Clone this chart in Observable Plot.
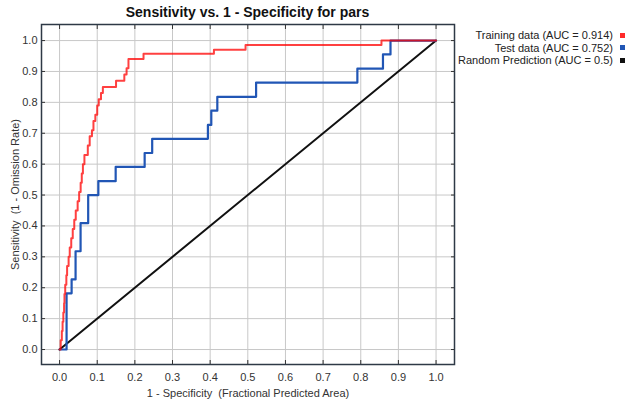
<!DOCTYPE html>
<html><head><meta charset="utf-8">
<script src="https://cdn.jsdelivr.net/npm/d3@7"></script>
<script src="https://cdn.jsdelivr.net/npm/@observablehq/plot@0.6"></script>
<style>
body{margin:0;background:#fff;}
#wrap{position:relative;width:635px;height:402px;font-family:"Liberation Sans",Arial,sans-serif;}
#title{position:absolute;left:41px;width:413px;top:4px;text-align:center;font-family:"Liberation Sans Narrow","Liberation Sans",Arial,sans-serif;font-weight:bold;font-size:14px;color:#111;white-space:nowrap;}
#legend{position:absolute;right:10px;top:29px;font-size:11px;color:#222;text-align:right;line-height:12.5px;white-space:nowrap;}
.sw{display:inline-block;width:5px;height:5px;margin-left:7px;vertical-align:middle;position:relative;top:-1px}
#chart{position:absolute;left:0;top:0}
</style></head>
<body><div id="wrap"><div id="chart"></div><div id="title">Sensitivity vs. 1 - Specificity for pars</div><div id="legend"></div></div>
<script>
// Training data ROC (fraction predicted area vs sensitivity), step corners
const trainFpr = [0, 0.003, 0.006, 0.008, 0.010, 0.012, 0.013, 0.015, 0.018, 0.020, 0.024, 0.027, 0.031, 0.035, 0.039, 0.043, 0.048, 0.052, 0.056, 0.059, 0.062, 0.066, 0.075, 0.080, 0.086, 0.090, 0.095, 0.100, 0.104, 0.110, 0.115, 0.150, 0.172, 0.178, 0.183, 0.223, 0.410, 0.494, 0.855, 1.0];
const trainTpr = [0, 0.03, 0.06, 0.09, 0.12, 0.15, 0.18, 0.21, 0.24, 0.27, 0.30, 0.33, 0.36, 0.39, 0.42, 0.45, 0.48, 0.51, 0.54, 0.57, 0.60, 0.63, 0.66, 0.69, 0.71, 0.74, 0.76, 0.79, 0.81, 0.83, 0.85, 0.87, 0.89, 0.91, 0.94, 0.957, 0.970, 0.986, 1.0, 1.0];
// Test data ROC
const testFpr = [0, 0.0186, 0.032, 0.0425, 0.0558, 0.076, 0.103, 0.149, 0.226, 0.246, 0.394, 0.403, 0.419, 0.522, 0.791, 0.859, 0.879, 1.0];
const testTpr = [0, 0.182, 0.227, 0.318, 0.409, 0.500, 0.545, 0.591, 0.636, 0.682, 0.727, 0.773, 0.818, 0.864, 0.909, 0.955, 1.0, 1.0];
// Random prediction
const randFpr = [0, 1];
const randTpr = [0, 1];
// Legend
const seriesNames = ["Training data", "Test data", "Random Prediction"];
const aucValues = ["0.914", "0.752", "0.5"];
const seriesColors = ["#ff2a2a", "#2156b5", "#111111"];
// Tick values
const tickValues = [0, 0.1, 0.2, 0.3, 0.4, 0.5, 0.6, 0.7, 0.8, 0.9, 1.0];

const train = trainFpr.map((x, i) => ({x, y: trainTpr[i]}));
const test = testFpr.map((x, i) => ({x, y: testTpr[i]}));
const rand = randFpr.map((x, i) => ({x, y: randTpr[i]}));
const fmt = d3.format(".1f");

const chart = Plot.plot({
  width: 635, height: 402,
  marginLeft: 41, marginRight: 181, marginTop: 24, marginBottom: 38,
  x: {domain: [-0.048, 1.049], label: null},
  y: {domain: [-0.0485, 1.052], label: null},
  style: {fontFamily: '"Liberation Sans", Arial, sans-serif', fontSize: "11px", color: "#333", background: "white"},
  marks: [
    Plot.gridX(tickValues, {stroke: "#c8c8c8", strokeOpacity: 1}),
    Plot.gridY(tickValues, {stroke: "#c8c8c8", strokeOpacity: 1}),
    Plot.line(rand, {x: "x", y: "y", stroke: "#111", strokeWidth: 2}),
    Plot.line(test, {x: "x", y: "y", curve: "step-after", stroke: "#2156b5", strokeWidth: 2.2}),
    Plot.line(train, {x: "x", y: "y", curve: "step-after", stroke: "#ff0000", strokeOpacity: 0.75, strokeWidth: 2}),
    Plot.axisX(tickValues, {anchor: "bottom", tickSize: -4, tickFormat: () => "", label: null, stroke: "#333"}),
    Plot.axisX(tickValues, {anchor: "top", tickSize: -4, tickFormat: () => "", label: null, stroke: "#333"}),
    Plot.axisY(tickValues, {anchor: "left", tickSize: -4, tickFormat: () => "", label: null, stroke: "#333"}),
    Plot.axisY(tickValues, {anchor: "right", tickSize: -4, tickFormat: () => "", label: null, stroke: "#333"}),
    Plot.axisX(tickValues, {anchor: "bottom", tickSize: 0, tickPadding: 9, tickFormat: fmt, label: "1 - Specificity  (Fractional Predicted Area)", labelAnchor: "center", labelOffset: 32, labelArrow: "none"}),
    Plot.axisY(tickValues, {anchor: "left", tickSize: 0, tickPadding: 4, tickFormat: fmt, label: "Sensitivity  (1 - Omission Rate)", labelAnchor: "center", labelOffset: 30, labelArrow: "none"}),
    Plot.frame({stroke: "#2e3946", strokeWidth: 1.5})
  ]
});
document.getElementById("chart").appendChild(chart);

const legend = document.getElementById("legend");
seriesNames.forEach((n, i) => {
  const row = document.createElement("div");
  row.textContent = `${n} (AUC = ${aucValues[i]})`;
  const sw = document.createElement("span");
  sw.className = "sw";
  sw.style.background = seriesColors[i];
  row.appendChild(sw);
  legend.appendChild(row);
});
</script>
</body></html>
